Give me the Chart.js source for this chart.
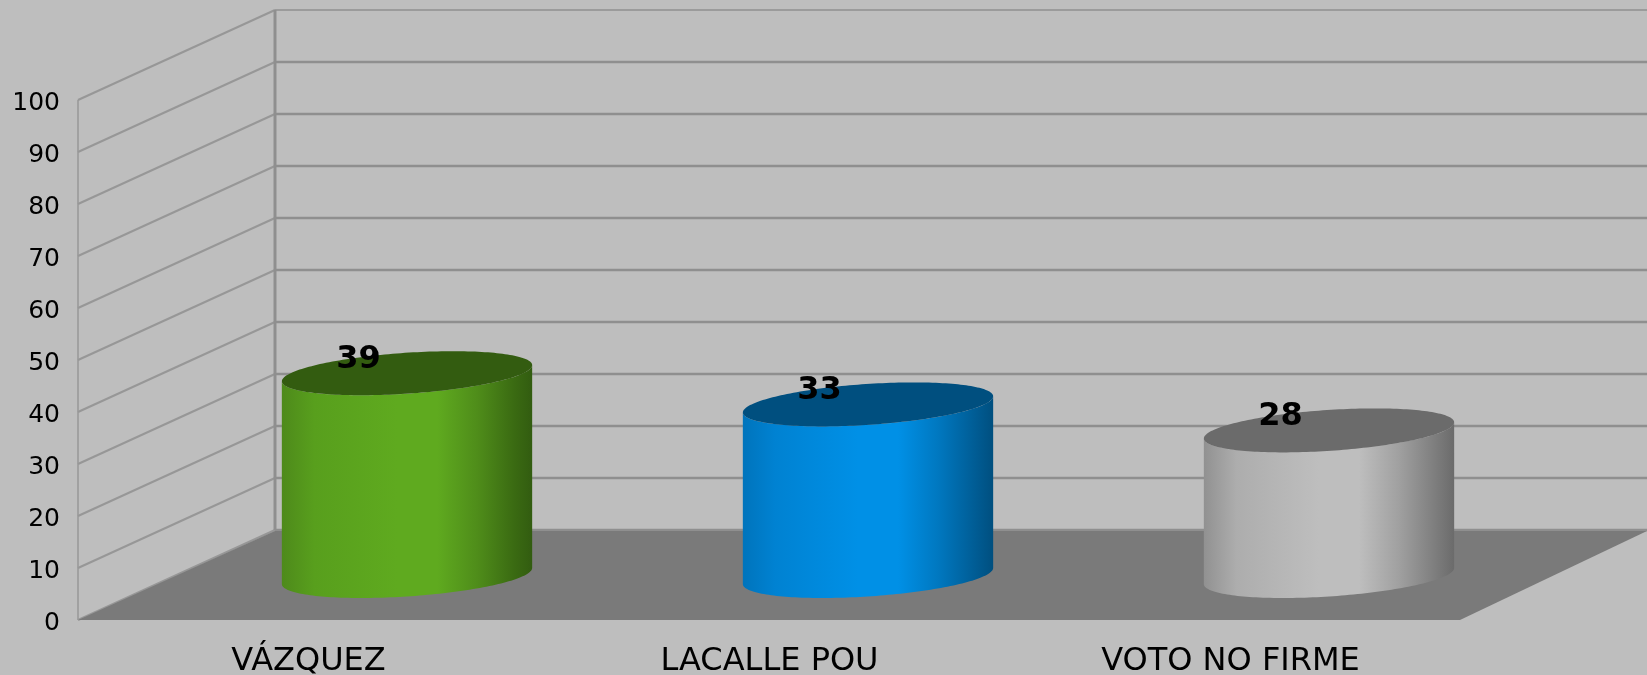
<!DOCTYPE html>
<html>
<head>
<meta charset="utf-8">
<style>
html,body{margin:0;padding:0;background:#bebebe;width:1647px;height:675px;overflow:hidden}
#wrap{position:relative;width:1647px;height:675px}
</style>
<script src="https://cdn.jsdelivr.net/npm/chart.js@4/dist/chart.umd.js"></script>
</head>
<body>
<div id="wrap"><canvas id="c" width="1647" height="675"></canvas></div>
<script>
const categories = ['VÁZQUEZ', 'LACALLE POU', 'VOTO NO FIRME'];
const seriesValues = [39, 33, 28];
const tickValues = [0, 10, 20, 30, 40, 50, 60, 70, 80, 90, 100];
const bodyStops = [
  ['#4e8a1b','#589f1d','#5faa1f','#5faa1f','#4f8d1a','#3a6a12','#325c10'],
  ['#0074bc','#0082d2','#0090e6','#0090e6','#0078c0','#005c94','#004f7f'],
  ['#919191','#adadad','#bebebe','#bebebe','#a0a0a0','#7c7c7c','#6b6b6b']
];
const capColors = ['#335c10', '#004f7f', '#6b6b6b'];
const stopPositions = [0, 0.13, 0.46, 0.62, 0.78, 0.93, 1];

const DEPTH_X = 197, DEPTH_Y = 90;
const GRID = '#8f8f8f', SIDE = '#979797', FLOOR = '#7a7a7a';

class CylinderBar extends Chart.BarElement {
  draw(ctx) {
    const {x, y, base, width} = this.getProps(['x', 'y', 'base', 'width'], false);
    const idx = this.$context ? this.$context.dataIndex : 0;
    const cx = x + DEPTH_X / 2, hw = width / 2, D = 22, s = 46;
    const a = Math.sqrt(hw * hw - s * s);
    const topY = y - DEPTH_Y / 2 + 1, botY = base - DEPTH_Y / 2 + 1;
    const p = (cy, t) => [cx + a * Math.cos(t) + s * Math.sin(t), cy - D * Math.sin(t)];
    const t1 = Math.atan2(s, a), t0 = Math.PI + t1;
    const N = 96;
    ctx.save();
    const g = ctx.createLinearGradient(cx - hw, 0, cx + hw, 0);
    stopPositions.forEach((pos, i) => g.addColorStop(pos, bodyStops[idx][i]));
    ctx.fillStyle = g;
    ctx.beginPath();
    for (let i = 0; i <= N; i++) {
      const [px, py] = p(botY, t0 + (t1 + 2 * Math.PI - t0) * i / N);
      i ? ctx.lineTo(px, py) : ctx.moveTo(px, py);
    }
    for (let i = N; i >= 0; i--) {
      const [px, py] = p(topY, t0 + (t1 + 2 * Math.PI - t0) * i / N);
      ctx.lineTo(px, py);
    }
    ctx.closePath();
    ctx.fill();
    ctx.fillStyle = capColors[idx];
    ctx.beginPath();
    for (let i = 0; i <= N * 2; i++) {
      const [px, py] = p(topY, 2 * Math.PI * i / (N * 2));
      i ? ctx.lineTo(px, py) : ctx.moveTo(px, py);
    }
    ctx.closePath();
    ctx.fill();
    ctx.restore();
  }
}
CylinderBar.id = 'cylinderBar';

class CylinderController extends Chart.BarController {}
CylinderController.id = 'cylinder';
CylinderController.defaults = Object.assign({}, Chart.BarController.defaults, {dataElementType: 'cylinderBar'});
CylinderController.overrides = Chart.BarController.overrides;
Chart.register(CylinderBar, CylinderController);

const wallsPlugin = {
  id: 'walls',
  beforeDatasetsDraw(chart) {
    const {ctx, chartArea: ca, scales: {y}} = chart;
    const fx = ca.left, bx = ca.left + DEPTH_X, W = chart.width;
    ctx.save();
    // grid on the side wall and back wall
    tickValues.forEach(v => {
      const py = y.getPixelForValue(v);
      ctx.strokeStyle = SIDE;
      ctx.lineWidth = 2;
      ctx.beginPath();
      ctx.moveTo(fx, py);
      ctx.lineTo(bx, py - DEPTH_Y);
      ctx.stroke();
      ctx.strokeStyle = GRID;
      ctx.lineWidth = v === 100 ? 1.5 : 2.6;
      ctx.beginPath();
      ctx.moveTo(bx, py - DEPTH_Y);
      ctx.lineTo(W, py - DEPTH_Y);
      ctx.stroke();
    });
    // floor
    ctx.fillStyle = FLOOR;
    ctx.beginPath();
    ctx.moveTo(fx, ca.bottom);
    ctx.lineTo(bx, ca.bottom - DEPTH_Y + 1);
    ctx.lineTo(W, ca.bottom - DEPTH_Y + 1);
    ctx.lineTo(ca.right - 1, ca.bottom);
    ctx.closePath();
    ctx.fill();
    // wall edges
    ctx.strokeStyle = SIDE;
    ctx.lineWidth = 1.5;
    ctx.beginPath();
    ctx.moveTo(fx, y.getPixelForValue(100));
    ctx.lineTo(fx, y.getPixelForValue(0));
    ctx.stroke();
    ctx.strokeStyle = GRID;
    ctx.lineWidth = 3;
    ctx.beginPath();
    ctx.moveTo(bx, y.getPixelForValue(100) - DEPTH_Y);
    ctx.lineTo(bx, y.getPixelForValue(0) - DEPTH_Y);
    ctx.stroke();
    ctx.restore();
  },
  afterDatasetsDraw(chart) {
    const {ctx} = chart;
    ctx.save();
    ctx.fillStyle = '#000';
    ctx.font = 'bold 32px "DejaVu Sans"';
    ctx.textAlign = 'center';
    ctx.textBaseline = 'middle';
    chart.getDatasetMeta(0).data.forEach((bar, i) => {
      ctx.fillText(String(seriesValues[i]), bar.x + 50, bar.y - 58);
    });
    ctx.restore();
  }
};

new Chart(document.getElementById('c'), {
  type: 'cylinder',
  data: {
    labels: categories,
    datasets: [{
      data: seriesValues,
      categoryPercentage: 1,
      barPercentage: 0.543,
      backgroundColor: capColors
    }]
  },
  plugins: [wallsPlugin],
  options: {
    responsive: false,
    animation: false,
    layout: {padding: {top: 100, right: 186, left: 0, bottom: 0}},
    plugins: {legend: {display: false}, tooltip: {enabled: false}, title: {display: false}},
    scales: {
      x: {
        grid: {display: false, drawTicks: false},
        border: {display: false},
        ticks: {color: '#000', font: {family: '"DejaVu Sans"', size: 32}, padding: 22, maxRotation: 0, autoSkip: false},
        afterFit(s) { s.height = 55; }
      },
      y: {
        min: 0, max: 100,
        grid: {display: false, drawTicks: false},
        border: {display: false},
        ticks: {color: '#000', font: {family: '"DejaVu Sans"', size: 25}, padding: 18, stepSize: 10, labelOffset: 3},
        afterFit(s) { s.width = 78; }
      }
    }
  }
});
</script>
</body>
</html>
